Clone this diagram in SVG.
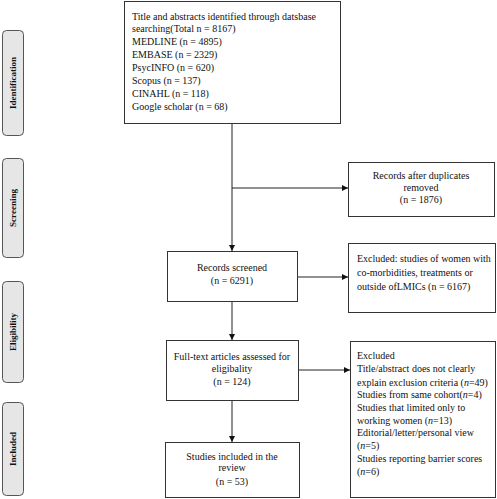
<svg xmlns="http://www.w3.org/2000/svg" width="497" height="499" viewBox="0 0 497 499">
<style>
.box{fill:#fff;stroke:#333;stroke-width:1}
.lab{fill:#e6e6e6;stroke:#555;stroke-width:1}
.t{font-family:"Liberation Serif","Times New Roman",serif;font-size:10px;fill:#111}
.c{text-anchor:middle}
.lt{font-family:"Liberation Serif","Times New Roman",serif;font-size:9px;font-weight:bold;fill:#111;text-anchor:middle}
.ln{stroke:#222;stroke-width:1;fill:none}
</style>
<defs>
<marker id="ah" markerWidth="6" markerHeight="6" refX="6" refY="3" orient="auto" markerUnits="userSpaceOnUse">
<path d="M0,0 L6,3 L0,6 z" fill="#111"/>
</marker>
</defs>
<g id="phase-identification"><rect class="lab" x="2.5" y="30.5" width="21" height="105" rx="4"/><text class="lt" transform="translate(16,83) rotate(-90)">Identification</text></g>
<g id="phase-screening"><rect class="lab" x="2.5" y="158.5" width="21" height="99" rx="4"/><text class="lt" transform="translate(16,208) rotate(-90)">Screening</text></g>
<g id="phase-eligibility"><rect class="lab" x="2.5" y="281.5" width="21" height="101" rx="4"/><text class="lt" transform="translate(16,332) rotate(-90)">Eligibility</text></g>
<g id="phase-included"><rect class="lab" x="2.5" y="402.5" width="21" height="93" rx="4"/><text class="lt" transform="translate(16,449) rotate(-90)">Included</text></g>

<g id="connectors">
<line class="ln" x1="232" y1="123" x2="232" y2="251" marker-end="url(#ah)"/>
<line class="ln" x1="232" y1="188" x2="348" y2="188" marker-end="url(#ah)"/>
<line class="ln" x1="297" y1="277" x2="348" y2="277" marker-end="url(#ah)"/>
<line class="ln" x1="232" y1="302" x2="232" y2="340" marker-end="url(#ah)"/>
<line class="ln" x1="299" y1="370" x2="350" y2="370" marker-end="url(#ah)"/>
<line class="ln" x1="232" y1="400" x2="232" y2="442" marker-end="url(#ah)"/>
</g>

<g id="identified">
<rect class="box" x="124.5" y="1.5" width="216" height="122"/>
<text class="t" x="132" y="20" textLength="184" lengthAdjust="spacingAndGlyphs">Title  and abstracts identified through datsbase</text>
<text class="t" x="132" y="32">searching(Total n = 8167)</text>
<text class="t" x="132" y="45">MEDLINE  (n = 4895)</text>
<text class="t" x="132" y="58">EMBASE  (n = 2329)</text>
<text class="t" x="132" y="71">PsycINFO  (n = 620)</text>
<text class="t" x="132" y="84">Scopus (n = 137)</text>
<text class="t" x="132" y="97">CINAHL  (n = 118)</text>
<text class="t" x="132" y="110">Google  scholar (n = 68)</text>
</g>

<g id="duplicates">
<rect class="box" x="348.5" y="162.5" width="146" height="54"/>
<text class="t c" x="421" y="179">Records after duplicates</text>
<text class="t c" x="421" y="191">removed</text>
<text class="t c" x="421" y="203">(n = 1876)</text>
</g>

<g id="screened">
<rect class="box" x="167.5" y="251.5" width="130" height="50"/>
<text class="t c" x="232" y="271">Records screened</text>
<text class="t c" x="232" y="284">(n = 6291)</text>
</g>

<g id="excluded1">
<rect class="box" x="348.5" y="243.5" width="147" height="69"/>
<text class="t" x="357" y="262">Excluded:  studies of women with</text>
<text class="t" x="357" y="276">co-morbidities,  treatments or</text>
<text class="t" x="357" y="290">outside ofLMICs  (n = 6167)</text>
</g>

<g id="fulltext">
<rect class="box" x="166.5" y="340.5" width="132" height="60"/>
<text class="t c" x="232" y="360">Full-text  articles assessed for</text>
<text class="t c" x="232" y="372">eligibality</text>
<text class="t c" x="232" y="385">(n = 124)</text>
</g>

<g id="excluded2">
<rect class="box" x="350.5" y="341.5" width="145" height="156"/>
<text class="t" x="357" y="359">Excluded</text>
<text class="t" x="357" y="372">Title/abstract does not clearly</text>
<text class="t" x="357" y="386">explain  exclusion criteria (<tspan font-style="italic">n</tspan>=49)</text>
<text class="t" x="357" y="398">Studies from  same cohort(<tspan font-style="italic">n</tspan>=4)</text>
<text class="t" x="357" y="411">Studies that limited  only to</text>
<text class="t" x="357" y="424">working  women  (<tspan font-style="italic">n</tspan>=13)</text>
<text class="t" x="357" y="436">Editorial/letter/personal  view</text>
<text class="t" x="357" y="449">(<tspan font-style="italic">n</tspan>=5)</text>
<text class="t" x="357" y="462">Studies reporting barrier  scores</text>
<text class="t" x="357" y="475">(<tspan font-style="italic">n</tspan>=6)</text>
</g>

<g id="included">
<rect class="box" x="165.5" y="442.5" width="134" height="55"/>
<text class="t c" x="232" y="460">Studies included in the</text>
<text class="t c" x="232" y="471">review</text>
<text class="t c" x="232" y="485">(n = 53)</text>
</g>
</svg>
